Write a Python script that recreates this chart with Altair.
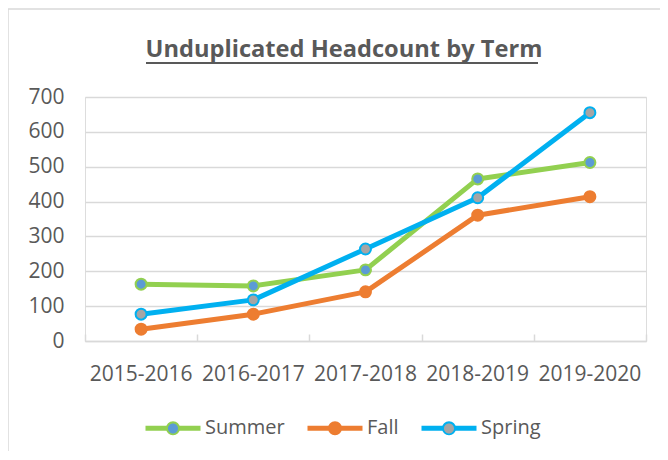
import altair as alt
import pandas as pd

title_text = "Unduplicated Headcount by Term"
terms = ["2015-2016", "2016-2017", "2017-2018", "2018-2019", "2019-2020"]
series = ["Summer", "Fall", "Spring"]
summer = [163, 158, 204, 465, 512]
fall = [34, 77, 141, 361, 414]
spring = [77, 118, 264, 411, 655]
y_ticks = [0, 100, 200, 300, 400, 500, 600, 700]
line_colors = ["#92D050", "#ED7D31", "#00B0F0"]
marker_fills = ["#5B9BD5", "#ED7D31", "#A5A5A5"]

series_f = [s + "_" for s in series]
rows = []
for s, sf, vals in zip(series, series_f, [summer, fall, spring]):
    for t, v in zip(terms, vals):
        rows.append({"term": t, "series": s, "series_f": sf, "value": v})
df = pd.DataFrame(rows)
one = pd.DataFrame({"t": [title_text]})

FONT = "Open Sans"
GRAY = "#595959"
GRID = "#D9D9D9"
W, H = 561, 244

xscale = alt.Scale(type="band", paddingInner=0, paddingOuter=0)
yscale = alt.Scale(domain=[0, 700], nice=False)

LEG_X, LEG_Y = 58, 301
leg_common = dict(
    title=None, orient="none", legendX=LEG_X, legendY=LEG_Y, direction="horizontal",
    symbolSize=3025, symbolStrokeWidth=5, labelFont=FONT, labelFontSize=20,
    labelColor=GRAY, labelOffset=2, columnPadding=12, padding=0, symbolOpacity=1,
)

LINE_RING = "M-1,0H1M-0.164,0A0.164,0.164,0,1,0,0.164,0A0.164,0.164,0,1,0,-0.164,0Z"
INNER = "M-1,0H1M-0.182,0A0.182,0.182,0,1,0,0.182,0A0.182,0.182,0,1,0,-0.182,0Z"

y_enc = alt.Y("value:Q", scale=yscale, title=None,
              axis=alt.Axis(values=y_ticks, grid=True, gridColor=GRID, gridWidth=1.5,
                            domain=False, ticks=False, labelFont=FONT, labelFontSize=21,
                            labelColor=GRAY, labelPadding=21))

base = alt.Chart(df)

lines = base.mark_line(strokeWidth=5, strokeJoin="round", strokeCap="round").encode(
    x=alt.X("term:N", sort=terms, scale=xscale, title=None,
            axis=alt.Axis(orient="bottom", labelAngle=0, labelFont=FONT, labelFontSize=21,
                          labelColor=GRAY, labelPadding=22, ticks=False, domain=True,
                          domainColor=GRID, domainWidth=1.5, grid=False)),
    y=y_enc,
    color=alt.Color("series:N", sort=series,
                    scale=alt.Scale(domain=series, range=line_colors),
                    legend=alt.Legend(symbolType=LINE_RING, zindex=1, **leg_common)),
)

points = base.mark_circle(size=120, opacity=1, strokeWidth=2).encode(
    x=alt.X("term:N", sort=terms, scale=xscale, title=None,
            axis=alt.Axis(orient="top", offset=-H, labels=False, domain=False, grid=False,
                          ticks=True, tickBand="extent", tickSize=7, tickColor=GRID,
                          tickWidth=1.5)),
    y=y_enc,
    stroke=alt.Stroke("series:N", sort=series,
                      scale=alt.Scale(domain=series, range=line_colors), legend=None),
    fill=alt.Fill("series_f:N", sort=series_f,
                  scale=alt.Scale(domain=series_f, range=marker_fills),
                  legend=alt.Legend(symbolType=INNER, symbolStrokeColor="transparent",
                                    labelOpacity=0,
                                    labelExpr="replace(datum.label, '_', '')",
                                    zindex=2, **leg_common)),
)

border = alt.Chart(one).mark_rect(fill=None, stroke=GRID, strokeWidth=1.5).encode(
    x=alt.value(-77), x2=alt.value(700), y=alt.value(-88), y2=alt.value(500)
)
title = alt.Chart(one).mark_text(font=FONT, fontSize=23.65, fontWeight="bold", color=GRAY,
                                 align="center", baseline="alphabetic").encode(
    text="t:N", x=alt.value(259), y=alt.value(-40)
)
underline = alt.Chart(one).mark_rule(color=GRAY, strokeWidth=2).encode(
    x=alt.value(61), x2=alt.value(453), y=alt.value(-34)
)

chart = alt.layer(border, lines, points, title, underline).resolve_axis(
    x="independent").properties(
    width=W, height=H,
    autosize=alt.AutoSizeParams(type="none"),
    padding={"left": 77, "top": 89, "right": 14, "bottom": 110},
).configure_view(strokeWidth=0).configure(background="white")

chart.save("out.html", embed_options={"renderer": "svg", "actions": False})
